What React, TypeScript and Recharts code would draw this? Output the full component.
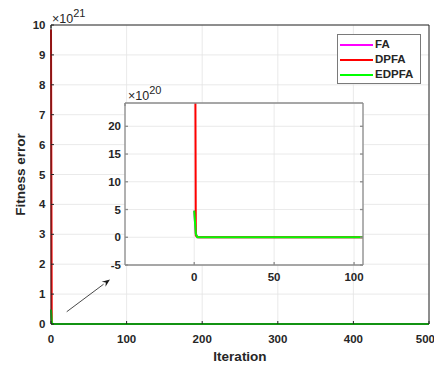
import React from 'react';
import { LineChart, Line, XAxis, YAxis, CartesianGrid, ReferenceLine, Legend } from 'recharts';

// Convergence of the fitness error over the iterations
const iterations = [0, 1, 2, 3, 10, 100, 500];
const faError = [4.8e20, 0.6e20, 0, 0, 0, 0, 0];
const dpfaError = [9.85e21, 0.3e20, 0.05e20, 0, 0, 0, 0];
const edpfaError = [4.8e20, 0.6e20, 0, 0, 0, 0, 0];

const seriesNames = ['FA', 'DPFA', 'EDPFA'];
const seriesColors = ['#ff00ff', '#ff0000', '#00ff00'];

// Axis ticks (y ticks are in units of the axis exponent)
const mainXTicks = [0, 100, 200, 300, 400, 500];
const mainYTicks = [0, 1, 2, 3, 4, 5, 6, 7, 8, 9, 10];
const mainExp = 21;
const insetXTicks = [0, 50, 100];
const insetYTicks = [-5, 0, 5, 10, 15, 20];
const insetExp = 20;

const rows = iterations.map((it, i) => ({
  it,
  FA: faError[i],
  DPFA: dpfaError[i],
  EDPFA: edpfaError[i],
}));

const FONT = '"Liberation Sans", Arial, sans-serif';
const INK = '#262626';
const tickStyle = { fill: INK, fontSize: 11.5, fontWeight: 700, fontFamily: FONT };

const mainScale = Math.pow(10, mainExp);
const insetScale = Math.pow(10, insetExp);

const expLabel = (exp: number, dx: number, dy: number) => (p: any) => {
  const vb = p.viewBox || {};
  const x = vb.x + dx;
  const y = vb.y + (vb.height || 0) + dy;
  return (
    <text x={x} y={y} fill={INK} fontFamily={FONT} fontSize={12.5}>
      ×10
      <tspan dy={-6} fontSize={11}>{exp}</tspan>
    </text>
  );
};

const Arrow = (p: any) => {
  const { x1, y1, x2, y2 } = p;
  const ang = Math.atan2(y2 - y1, x2 - x1);
  const L = 8;
  const W = 3.2;
  const bx = x2 - L * Math.cos(ang);
  const by = y2 - L * Math.sin(ang);
  const nx = -Math.sin(ang) * W;
  const ny = Math.cos(ang) * W;
  return (
    <g>
      <line x1={x1} y1={y1} x2={bx} y2={by} stroke="#1a1a1a" strokeWidth={0.8} />
      <polygon
        points={`${x2},${y2} ${bx + nx},${by + ny} ${bx + 0.35 * L * Math.cos(ang)},${by + 0.35 * L * Math.sin(ang)} ${bx - nx},${by - ny}`}
        fill="#1a1a1a"
      />
    </g>
  );
};

const LegendBox = () => (
  <div
    style={{
      width: 84,
      height: 50,
      boxSizing: 'border-box',
      border: '1px solid #7a7a7a',
      background: '#fff',
      paddingTop: 2,
      paddingLeft: 2,
    }}
  >
    {seriesNames.map((n, i) => (
      <div key={n} style={{ display: 'flex', alignItems: 'center', height: 15 }}>
        <span
          style={{ display: 'inline-block', width: 33, height: 2, background: seriesColors[i], marginRight: 2 }}
        />
        <span style={{ fontFamily: FONT, fontSize: 11.5, fontWeight: 700, color: INK, lineHeight: '15px' }}>{n}</span>
      </div>
    ))}
  </div>
);

export default function App() {
  return (
    <div style={{ position: 'absolute', left: 0, top: 0, width: 434, height: 367, background: '#fff' }}>
      <LineChart width={434} height={367} data={rows} margin={{ top: 24, right: 4, left: 0, bottom: 0 }}>
        <CartesianGrid stroke="#e4e4e4" strokeWidth={0.8} />
        <XAxis
          dataKey="it"
          type="number"
          domain={[0, 500]}
          ticks={mainXTicks}
          height={43}
          tickSize={-3}
          tickMargin={14}
          stroke={INK}
          tick={tickStyle}
          label={(p: any) => {
            const vb = p.viewBox || {};
            return (
              <text x={vb.x + vb.width / 2} y={361} textAnchor="middle" fill={INK} fontFamily={FONT} fontSize={13.5} fontWeight={700}>
                Iteration
              </text>
            );
          }}
        />
        <XAxis
          xAxisId="top"
          orientation="top"
          type="number"
          domain={[0, 500]}
          ticks={mainXTicks}
          height={1}
          tickSize={-3}
          stroke={INK}
          tickFormatter={() => ''}
          label={expLabel(mainExp, 1, -2)}
        />
        <YAxis
          type="number"
          domain={[0, 10 * mainScale]}
          ticks={mainYTicks.map((t) => t * mainScale)}
          tickFormatter={(v: number) => String(Math.round(v / mainScale))}
          width={51}
          tickSize={-3}
          tickMargin={8.5}
          stroke={INK}
          tick={tickStyle}
          label={(p: any) => {
            const vb = p.viewBox || {};
            const cy = vb.y + vb.height / 2;
            return (
              <text
                x={20}
                y={cy}
                transform={`rotate(-90 20 ${cy})`}
                textAnchor="middle"
                dominantBaseline="central"
                fill={INK}
                fontFamily={FONT}
                fontSize={13.5}
                fontWeight={700}
              >
                Fitness error
              </text>
            );
          }}
        />
        <YAxis
          yAxisId="right"
          orientation="right"
          type="number"
          domain={[0, 10 * mainScale]}
          ticks={mainYTicks.map((t) => t * mainScale)}
          width={1}
          tickSize={-3}
          stroke={INK}
          tickFormatter={() => ''}
        />
        <ReferenceLine
          segment={[
            { x: 20.8, y: 0.41 * mainScale },
            { x: 78, y: 1.49 * mainScale },
          ]}
          shape={Arrow}
        />
        <Legend
          layout="vertical"
          align="center"
          verticalAlign="middle"
          content={LegendBox}
          wrapperStyle={{ position: 'absolute', left: 337, top: 34, width: 84, height: 50 }}
        />
        {seriesNames.map((n, i) => (
          <Line
            key={n}
            dataKey={n}
            type="linear"
            stroke={seriesColors[i]}
            strokeWidth={2}
            dot={false}
            isAnimationActive={false}
          />
        ))}
      </LineChart>

      {/* zoomed view of the first iterations */}
      <div style={{ position: 'absolute', left: 95, top: 85, width: 275, height: 205 }}>
        <LineChart width={275} height={205} data={rows} margin={{ top: 17, right: 6, left: 0, bottom: 0 }}>
          <CartesianGrid stroke="#e4e4e4" strokeWidth={0.8} fill="#ffffff" fillOpacity={1} />
          <XAxis
            dataKey="it"
            type="number"
            domain={[-43.3, 105.6]}
            allowDataOverflow
            ticks={insetXTicks}
            height={25}
            tickSize={-3}
            tickMargin={11}
            stroke="#8c8c8c"
            strokeWidth={1.3}
            tick={tickStyle}
          />
          <XAxis
            xAxisId="top"
            orientation="top"
            type="number"
            domain={[-43.3, 105.6]}
            allowDataOverflow
            ticks={insetXTicks}
            height={1}
            tickSize={-3}
            stroke="#8c8c8c"
            strokeWidth={1.3}
            tickFormatter={() => ''}
            label={expLabel(insetExp, 3, -3)}
          />
          <YAxis
            type="number"
            domain={[-5 * insetScale, 24.2 * insetScale]}
            allowDataOverflow
            ticks={insetYTicks.map((t) => t * insetScale)}
            tickFormatter={(v: number) => String(Math.round(v / insetScale))}
            width={30}
            tickSize={-3}
            tickMargin={7}
            stroke="#8c8c8c"
            strokeWidth={1.3}
            tick={tickStyle}
          />
          <YAxis
            yAxisId="right"
            orientation="right"
            type="number"
            domain={[-5 * insetScale, 24.2 * insetScale]}
            allowDataOverflow
            ticks={insetYTicks.map((t) => t * insetScale)}
            width={1}
            tickSize={-3}
            stroke="#8c8c8c"
            strokeWidth={1.3}
            tickFormatter={() => ''}
          />
          {seriesNames.map((n, i) => (
            <Line
              key={n}
              dataKey={n}
              type="linear"
              stroke={seriesColors[i]}
              strokeWidth={2}
              dot={false}
              isAnimationActive={false}
            />
          ))}
        </LineChart>
      </div>
    </div>
  );
}
